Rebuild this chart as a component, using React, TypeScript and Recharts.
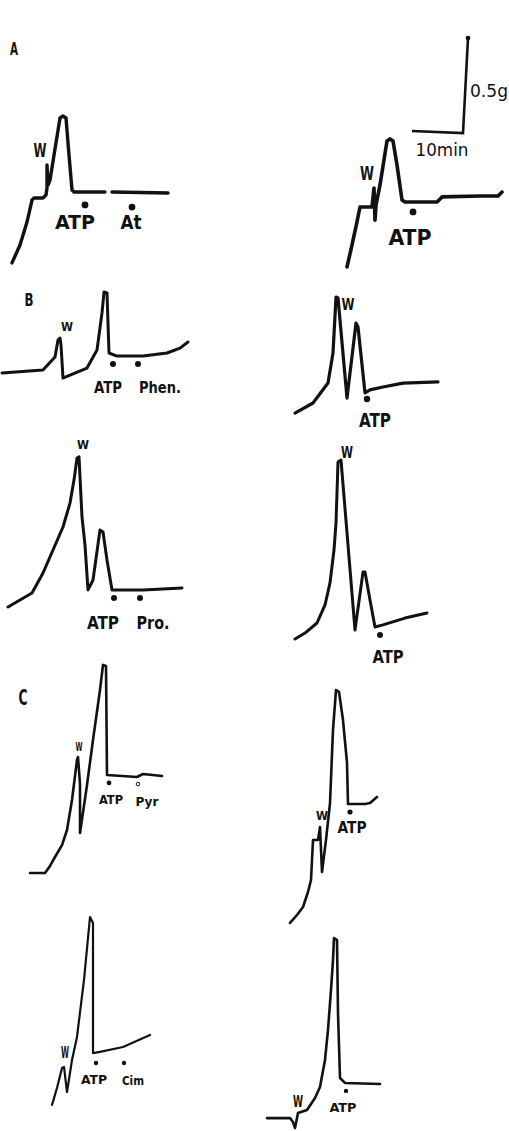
import React from 'react';
import { LineChart, Line, XAxis, YAxis, ReferenceDot } from 'recharts';

// chart recorder paper speed / gain, read from the 10 min / 0.5 g bar
const PX_PER_MIN = 5;
const PX_PER_G = 190;
const FONT = "'Liberation Sans Narrow', 'DejaVu Sans Condensed', 'Liberation Sans', sans-serif";

type Row = [number, number | null]; // [time (min), tension (g)]
type Mark = { t: number; g: number; name: string; ring?: boolean };

// ---- A ----
const traceA1: Row[] = [
  [0.4, 0.011], [2, 0.105], [3.4, 0.226], [4.4, 0.342], [4.8, 0.353], [6.6, 0.353], [7.2, 0.368],
  [7.4, 0.405], [7.4, 0.526], [7.6, 0.421], [8, 0.447], [10, 0.774], [10.6, 0.784], [11.2, 0.774],
  [11.8, 0.579], [12.4, 0.395], [12.8, 0.384], [19, 0.384], [19.7, null], [20.4, 0.384], [31.6, 0.379],
];
const marksA1: Mark[] = [{ t: 15, g: 0.316, name: 'ATP' }, { t: 24.4, g: 0.305, name: 'At' }];
const washA1 = { t: 6, g: 0.605 };

const traceA2: Row[] = [
  [1.4, 0.042], [2.4, 0.158], [3.4, 0.279], [4, 0.358], [6.4, 0.358], [6.8, 0.458], [7, 0.289],
  [7.2, 0.368], [8, 0.474], [9.4, 0.705], [10, 0.716], [10.6, 0.705], [11.4, 0.579], [12.4, 0.395],
  [13, 0.384], [19.4, 0.384], [20.4, 0.411], [28, 0.416], [31.6, 0.416], [32.4, 0.437],
];
const marksA2: Mark[] = [{ t: 14.6, g: 0.332, name: 'ATP' }];
const washA2 = { t: 5.4, g: 0.537 };

// calibration bar: 10 min horizontal, 0.5 g vertical
const scaleBar: Row[] = [[1.4, 0.179], [11.6, 0.168], [12.6, 0.668]];

// ---- B ----
const traceB1: Row[] = [
  [0.4, 0.116], [8.6, 0.132], [11, 0.2], [11.6, 0.289], [12, 0.3], [12.2, 0.263], [12.6, 0.089],
  [14, 0.105], [17.4, 0.142], [19.4, 0.237], [20.4, 0.432], [20.8, 0.542], [21.4, 0.537], [21.8, 0.221],
  [23.4, 0.205], [28.6, 0.205], [33.4, 0.221], [36, 0.247], [37.6, 0.279],
];
const marksB1: Mark[] = [{ t: 22.6, g: 0.163, name: 'ATP' }, { t: 27.6, g: 0.163, name: 'Phen.' }];
const washB1 = { t: 13.4, g: 0.358 };

const traceB2: Row[] = [
  [1, 0.089], [4.6, 0.142], [7.6, 0.247], [8.6, 0.405], [9.2, 0.7], [9.6, 0.695], [11.4, 0.168],
  [13.2, 0.563], [13.6, 0.542], [15, 0.195], [16, 0.211], [18.6, 0.226], [22.6, 0.247], [29.6, 0.253],
];
const marksB2: Mark[] = [{ t: 15.4, g: 0.163, name: 'ATP' }];
const washB2 = { t: 11.6, g: 0.658 };

const traceB3: Row[] = [
  [0.6, 0.121], [3, 0.158], [5.4, 0.195], [7.6, 0.3], [9.6, 0.421], [11.6, 0.542], [13, 0.668],
  [13.8, 0.789], [14.4, 0.905], [14.8, 0.911], [15.4, 0.595], [16, 0.447], [16.6, 0.211], [17.6, 0.263],
  [19, 0.526], [19.6, 0.516], [20.4, 0.368], [21.4, 0.211], [27.6, 0.211], [35.4, 0.221],
];
const marksB3: Mark[] = [{ t: 21.8, g: 0.168, name: 'ATP' }, { t: 27, g: 0.168, name: 'Pro.' }];
const washB3 = { t: 15.6, g: 0.974 };

const traceB4: Row[] = [
  [1, 0.137], [3, 0.168], [5.4, 0.221], [7, 0.316], [8, 0.432], [8.8, 0.605], [9.2, 0.747],
  [9.6, 1.068], [10.2, 1.079], [11.6, 0.632], [13, 0.184], [14.6, 0.489], [15, 0.489], [16, 0.342],
  [17, 0.2], [18.6, 0.211], [23, 0.247], [27.4, 0.274],
];
const marksB4: Mark[] = [{ t: 18, g: 0.158, name: 'ATP' }];
const washB4 = { t: 11.4, g: 1.116 };

// ---- C ----
const traceC1: Row[] = [
  [2, 0.037], [5, 0.037], [6, 0.074], [7, 0.121], [8.4, 0.184], [9.4, 0.263], [10.4, 0.421],
  [11.4, 0.632], [11.6, 0.647], [12, 0.505], [12, 0.247], [13.4, 0.5], [14.6, 0.737], [16, 1.0],
  [16.6, 1.132], [17.2, 1.126], [17.4, 0.553], [23.4, 0.542], [24.6, 0.558], [28.4, 0.547],
];
const marksC1: Mark[] = [{ t: 17.8, g: 0.511, name: 'ATP' }, { t: 23.6, g: 0.505, name: 'Pyr', ring: true }];
const washC1 = { t: 11.8, g: 0.7 };

const traceC2: Row[] = [
  [1, 0.037], [2.4, 0.079], [3.6, 0.121], [4.6, 0.2], [5.2, 0.263], [5.6, 0.474], [6.6, 0.474],
  [7, 0.542], [7.4, 0.305], [8.2, 0.474], [9, 0.668], [9.6, 1.053], [10.2, 1.263], [10.8, 1.253],
  [11.6, 1.105], [12.4, 0.879], [12.6, 0.663], [16, 0.663], [17, 0.668], [18.4, 0.7],
];
const marksC2: Mark[] = [{ t: 13, g: 0.621, name: 'ATP' }];
const washC2 = { t: 7.4, g: 0.605 };

const traceC3: Row[] = [
  [1.4, 0.053], [2.4, 0.142], [3.4, 0.247], [3.8, 0.253], [4.4, 0.121], [5.4, 0.289], [6.4, 0.411],
  [7.8, 0.711], [9, 1.042], [9.6, 1.011], [9.6, 0.326], [11, 0.332], [15.6, 0.358], [21, 0.421],
];
const marksC3: Mark[] = [{ t: 10.2, g: 0.274, name: 'ATP' }, { t: 15.8, g: 0.274, name: 'Cim' }];
const washC3 = { t: 4, g: 0.326 };

const traceC4: Row[] = [
  [1.4, 0.068], [6, 0.068], [6.6, 0.047], [7, 0.016], [7.6, 0.095], [9.4, 0.111], [11, 0.174],
  [12, 0.232], [13, 0.374], [13.6, 0.532], [14.2, 0.742], [14.6, 0.9], [14.8, 1.016], [15.4, 1.005],
  [15.6, 0.621], [16, 0.279], [17, 0.253], [24, 0.247],
];
const marksC4: Mark[] = [{ t: 17.2, g: 0.211, name: 'ATP' }];
const washC4 = { t: 7.6, g: 0.153 };

type Panel = {
  trace: Row[];
  marks: Mark[];
  wash: { t: number; g: number };
  box: { x: number; y: number; w: number; h: number };
  sw: number;
  dotR: number;
  font: number;
  // per-label [dx, dy, width] relative to its dot
  tags: [number, number, number][];
  wFont: number;
  wLen: number;
};

const PANELS: Panel[] = [
  { trace: traceA1, marks: marksA1, wash: washA1, box: { x: 10, y: 100, w: 160, h: 165 }, sw: 3.4, dotR: 3.4, font: 20, tags: [[-10, 17, 40], [-1, 15, 21]], wFont: 20, wLen: 13 },
  { trace: traceA2, marks: marksA2, wash: washA2, box: { x: 340, y: 100, w: 168, h: 175 }, sw: 3.6, dotR: 3.4, font: 22, tags: [[-3, 26, 43]], wFont: 20, wLen: 14 },
  { trace: traceB1, marks: marksB1, wash: washB1, box: { x: 0, y: 285, w: 195, h: 110 }, sw: 3, dotR: 3, font: 16, tags: [[-5, 23, 28], [22, 23, 42]], wFont: 12, wLen: 12 },
  { trace: traceB2, marks: marksB2, wash: washB2, box: { x: 290, y: 290, w: 155, h: 140 }, sw: 3.2, dotR: 3.2, font: 19, tags: [[8, 21, 32]], wFont: 16, wLen: 13 },
  { trace: traceB3, marks: marksB3, wash: washB3, box: { x: 5, y: 435, w: 185, h: 195 }, sw: 3, dotR: 3, font: 18, tags: [[-11, 24, 32], [13, 24, 33]], wFont: 13, wLen: 12 },
  { trace: traceB4, marks: marksB4, wash: washB4, box: { x: 290, y: 440, w: 145, h: 225 }, sw: 3, dotR: 3, font: 18, tags: [[8, 22, 31]], wFont: 16, wLen: 12 },
  { trace: traceC1, marks: marksC1, wash: washC1, box: { x: 20, y: 655, w: 150, h: 225 }, sw: 2.6, dotR: 2.4, font: 12, tags: [[2, 17, 24], [9, 18, 23]], wFont: 12, wLen: 7 },
  { trace: traceC2, marks: marksC2, wash: washC2, box: { x: 285, y: 680, w: 100, h: 250 }, sw: 2.6, dotR: 2.6, font: 16, tags: [[2, 15, 29]], wFont: 13, wLen: 12 },
  { trace: traceC3, marks: marksC3, wash: washC3, box: { x: 45, y: 905, w: 115, h: 210 }, sw: 2.2, dotR: 2.2, font: 12, tags: [[-2, 17, 26], [9, 18, 22]], wFont: 15, wLen: 8 },
  { trace: traceC4, marks: marksC4, wash: washC4, box: { x: 260, y: 925, w: 125, h: 206 }, sw: 2.6, dotR: 2.2, font: 12, tags: [[-3, 17, 27]], wFont: 15, wLen: 10 },
];

const INK = '#111';
// spare room round each plot so labels are not clipped by the svg
const PAD = { top: 12, right: 12, bottom: 24, left: 12 };

function TraceChart({ p }: { p: Panel }) {
  const data = p.trace.map(([t, g]) => ({ t, g }));
  const { x, y, w, h } = p.box;
  return (
    <div style={{ position: 'absolute', left: x - PAD.left, top: y - PAD.top }}>
      <LineChart width={w + PAD.left + PAD.right} height={h + PAD.top + PAD.bottom} data={data} margin={PAD}>
        <XAxis type="number" dataKey="t" domain={[0, w / PX_PER_MIN]} hide allowDataOverflow />
        <YAxis type="number" domain={[0, h / PX_PER_G]} hide allowDataOverflow />
        <Line
          type="linear"
          dataKey="g"
          stroke={INK}
          strokeWidth={p.sw}
          strokeLinejoin="round"
          strokeLinecap="round"
          dot={false}
          activeDot={false}
          connectNulls={false}
          isAnimationActive={false}
        />
        <ReferenceDot
          x={p.wash.t}
          y={p.wash.g}
          r={0}
          shape={(props: any) => (
            <text
              x={props.cx}
              y={props.cy}
              textAnchor="middle"
              dominantBaseline="central"
              fontFamily={FONT}
              fontWeight="bold"
              fontSize={p.wFont}
              textLength={p.wLen}
              lengthAdjust="spacingAndGlyphs"
              fill={INK}
            >
              W
            </text>
          )}
        />
        {p.marks.map((m, i) => {
          const [dx, dy, len] = p.tags[i];
          return (
            <ReferenceDot
              key={m.name}
              x={m.t}
              y={m.g}
              r={p.dotR}
              shape={(props: any) => (
                <g>
                  {m.ring ? (
                    <circle cx={props.cx} cy={props.cy} r={1.8} fill="none" stroke={INK} strokeWidth={1} />
                  ) : (
                    <circle cx={props.cx} cy={props.cy} r={p.dotR} fill={INK} />
                  )}
                  <text
                    x={props.cx + dx}
                    y={props.cy + dy}
                    textAnchor="middle"
                    dominantBaseline="central"
                    fontFamily={FONT}
                    fontWeight="bold"
                    fontSize={p.font}
                    textLength={len}
                    lengthAdjust="spacingAndGlyphs"
                    fill={INK}
                  >
                    {m.name}
                  </text>
                </g>
              )}
            />
          );
        })}
      </LineChart>
    </div>
  );
}

function ScaleBar() {
  const data = scaleBar.map(([t, g]) => ({ t, g }));
  const w = 104;
  const h = 135;
  return (
    <div style={{ position: 'absolute', left: 405, top: 30 }}>
      <LineChart width={w} height={h} data={data} margin={{ top: 0, right: 0, bottom: 0, left: 0 }}>
        <XAxis type="number" dataKey="t" domain={[0, w / PX_PER_MIN]} hide allowDataOverflow />
        <YAxis type="number" domain={[0, h / PX_PER_G]} hide allowDataOverflow />
        <Line type="linear" dataKey="g" stroke={INK} strokeWidth={2.6} dot={false} activeDot={false} isAnimationActive={false} />
        <ReferenceDot x={12.6} y={0.668} r={2.4} fill={INK} stroke="none" />
        <ReferenceDot
          x={16.8}
          y={0.39}
          r={0}
          shape={(props: any) => (
            <text x={props.cx} y={props.cy} textAnchor="middle" dominantBaseline="central" fontFamily={FONT}
              fontSize={18} textLength={38} lengthAdjust="spacingAndGlyphs" fill={INK}>0.5g</text>
          )}
        />
        <ReferenceDot
          x={7.4}
          y={0.079}
          r={0}
          shape={(props: any) => (
            <text x={props.cx} y={props.cy} textAnchor="middle" dominantBaseline="central" fontFamily={FONT}
              fontSize={17} textLength={53} lengthAdjust="spacingAndGlyphs" fill={INK}>10min</text>
          )}
        />
      </LineChart>
    </div>
  );
}

const LETTERS: [string, number, number, number, number][] = [
  ['A', 14, 48, 18, 8],
  ['B', 29, 299, 18, 9],
  ['C', 23, 697, 22, 9],
];

export default function App() {
  return (
    <div style={{ position: 'absolute', left: 0, top: 0, width: 509, height: 1131, background: '#fff', overflow: 'hidden' }}>
      <svg width={509} height={1131} style={{ position: 'absolute', left: 0, top: 0 }}>
        {LETTERS.map(([s, x, y, size, len]) => (
          <text key={s} x={x} y={y} textAnchor="middle" dominantBaseline="central" fontFamily={FONT}
            fontWeight="bold" fontSize={size} textLength={len} lengthAdjust="spacingAndGlyphs" fill={INK}>
            {s}
          </text>
        ))}
      </svg>
      <ScaleBar />
      {PANELS.map((p, i) => (
        <TraceChart key={i} p={p} />
      ))}
    </div>
  );
}
